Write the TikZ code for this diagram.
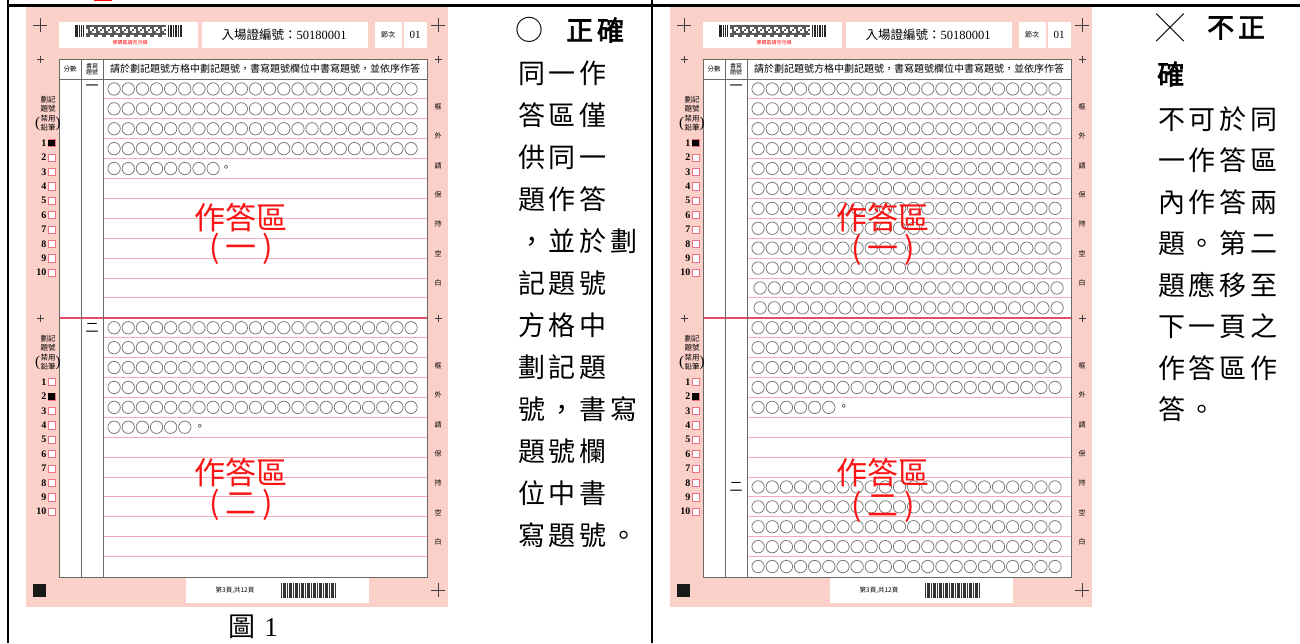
\documentclass[tikz,border=0pt]{standalone}
\usepackage{fontspec}
\setmainfont{Liberation Serif}
\newfontfamily\cjk{Noto Sans CJK TC}
\newfontfamily\cjkwide[LetterSpace=14]{Noto Sans CJK TC}
\newfontfamily\cjkwidebold[LetterSpace=14,FakeBold=2.5]{Noto Sans CJK TC}

\definecolor{sheetpink}{RGB}{251,208,200}
\definecolor{rowpink}{RGB}{245,172,186}
\definecolor{seprred}{RGB}{226,78,104}
\definecolor{gridgray}{RGB}{105,105,105}
\definecolor{bubblegray}{RGB}{118,118,118}
\definecolor{boxpink}{RGB}{238,112,134}
\definecolor{handred}{RGB}{250,20,20}

\begin{document}
\begin{tikzpicture}[x=1pt, y=-1pt,
    grid/.style={draw=gridgray, line width=0.6pt},
    rowline/.style={draw=rowpink, line width=0.9pt},
    sepline/.style={draw=seprred, line width=1.5pt},
    bubble/.style={draw=bubblegray, line width=0.75pt},
    tick/.style={draw=black!75, line width=0.7pt},
    numbox/.style={draw=boxpink, fill=white, line width=0.6pt},
    tiny/.style={inner sep=0pt, font=\cjk\fontsize{7}{7}\selectfont},
    digit/.style={inner sep=0pt, anchor=east, font=\bfseries\fontsize{10}{10}\selectfont},
    qno/.style={inner sep=0pt, font=\cjk\fontsize{13}{13}\selectfont},
    stop/.style={inner sep=0pt, font=\cjk\fontsize{11}{11}\selectfont},
    hand/.style={inner sep=0pt, text=handred, font=\cjk\fontsize{31}{31}\selectfont},
    desc/.style={anchor=west, inner sep=0pt, font=\cjkwide\fontsize{27}{27}\selectfont},
    descbold/.style={anchor=west, inner sep=0pt, font=\cjkwidebold\fontsize{27}{27}\selectfont}
]
\useasboundingbox (0,0) rectangle (1300,643);

\foreach \sx/\tag in {0/L,644/R}{
\begin{scope}[xshift=\sx]
    \fill[sheetpink] (26,7) rectangle (448,607);
    \fill[white] (59,22) rectangle (198,48);
    \fill[white] (202,22) rectangle (368,48);
    \fill[white] (375,22) rectangle (402,48);
    \fill[white] (404,22) rectangle (427,48);
    \fill[white] (59,59) rectangle (427,577);
    \fill[white] (186,578) rectangle (369,603);
    % barcode
    \foreach \bx/\bw in {75/2.6,78.6/1,80.6/1.6,83.2/0.8,168/1,170/2,173/0.8,175/1.6,177.6/1,179.6/2.6}
        \fill[black!85] (\bx,24.5) rectangle ++(\bw,12);
    \foreach \i in {0,...,39}
        \foreach \j in {0,...,5}{
            \pgfmathtruncatemacro\on{mod(\i*\i+3*\i*\j+\j,4)}
            \ifnum\on<2 \fill[black!65] ({86+2*\i},{24.5+2*\j}) rectangle ++(2,2); \fi
        }
    \node[tiny, text=red, font=\cjk\fontsize{5}{5}\selectfont] (note\tag) at (130,43) {條碼區請勿污損};
    \node[inner sep=0pt, font=\cjk\fontsize{12.5}{12.5}\selectfont] (admit\tag) at (284,35) {入場證編號：\rmfamily 50180001};
    \node[tiny] (sess\tag) at (388,35) {節次};
    \node[inner sep=0pt, font=\fontsize{11}{11}\selectfont] (sessno\tag) at (415,35) {01};
    % table
    \foreach \k in {1,...,24}{
        \ifnum\k=12 \else \draw[rowline] (103,{79+19.9*\k}) -- (427,{79+19.9*\k}); \fi
    }
    \draw[sepline] (59,317.8) -- (427,317.8);
    \draw[grid] (59,59) rectangle (427,577);
    \draw[grid] (59,79) -- (427,79);
    \draw[grid] (81,59) -- (81,577);
    \draw[grid] (103,59) -- (103,577);
    \node[tiny, font=\cjk\fontsize{6.5}{6.5}\selectfont] (score\tag) at (70,69) {分數};
    \node[tiny, align=center, font=\cjk\fontsize{6}{6.5}\selectfont] (qhead\tag) at (92,69) {書寫\\題號};
    \node[inner sep=0pt, font=\cjk\fontsize{10}{10}\selectfont] (guide\tag) at (265,69) {請於劃記題號方格中劃記題號，書寫題號欄位中書寫題號，並依序作答};
    \node[qno] (qa\tag) at (92,88) {一};
    % numbers
    \foreach \by/\mk in {143/1,382/2}{
        \node[tiny, align=center, font=\cjk\fontsize{7.5}{9.5}\selectfont] (mark\tag\mk) at (48,{\by-29.5}) {劃記\\題號\\禁用\\鉛筆};
        \node[inner sep=0pt, font=\fontsize{15}{15}\selectfont] (lp\tag\mk) at (37.5,{\by-19.5}) {(};
        \node[inner sep=0pt, font=\fontsize{15}{15}\selectfont] (rp\tag\mk) at (58,{\by-19.5}) {)};
        \foreach \n in {1,...,10}{
            \node[digit] (n\tag\mk\n) at (46.5,{\by+14.4*(\n-1)}) {\n};
            \draw[numbox] (47.8,{\by+14.4*(\n-1)-3.6}) rectangle ++(7.2,7.2);
        }
        \fill[black] (48.3,{\by+14.4*(\mk-1)-3.1}) rectangle ++(6.2,6.2);
    }
    \foreach \vy in {107,366}
        \foreach \ch [count=\i from 0] in {框,外,請,保,持,空,白}
            \node[tiny] (side\tag\vy\i) at (438,{\vy+29.3*\i}) {\ch};
    \foreach \px/\py/\ps in {40/25/7,438/25/7,40/59/3.5,438/59/3.5,40/318/3.5,438/318/3.5,438/590/7}
        \draw[tick] ({\px-\ps},\py) -- ({\px+\ps},\py) (\px,{\py-\ps}) -- (\px,{\py+\ps});
    \fill[black!90] (33,584) rectangle (46,597);
    \node[tiny, font=\cjk\fontsize{6.5}{6.5}\selectfont] (page\tag) at (235,590) {第3頁,共12頁};
    \foreach \i in {0,...,27}{
        \pgfmathsetmacro\bw{0.5+0.5*mod(\i*5,3)}
        \fill[black!80] ({281+2*\i},583) rectangle ++(\bw,15);
    }
\end{scope}
}

% left sheet answers
\foreach \r/\n in {1/22,2/22,3/22,4/22,5/8,13/22,14/22,15/22,16/22,17/22,18/6}
    \foreach \i in {1,...,\n}
        \draw[bubble] ({114.1+14.14*(\i-1)},{79+19.9*(\r-0.5)}) circle (6.2pt);
\node[stop] (stopL1) at ({114.1+14.14*8-1},{79+19.9*4.5}) {。};
\node[stop] (stopL2) at ({114.1+14.14*6+1},{79+19.9*17.5}) {。};
\node[qno] (qbL) at (92,{79+19.9*12.5}) {二};
\node[hand] (zoneL1) at (241,218) {作答區};
\node[hand] (zoneL1no) at (241,249) {(\hspace{6pt}一\hspace{6pt})};
\node[hand] (zoneL2) at (241,473) {作答區};
\node[hand] (zoneL2no) at (241,505) {(\hspace{6pt}二\hspace{6pt})};

% right sheet answers
\begin{scope}[xshift=644]
    \foreach \r in {1,2,3,4,5,6,7,8,9,10,13,14,15,16,21,22,23,24,25}
        \foreach \i in {1,...,22}
            \draw[bubble] ({114.1+14.14*(\i-1)},{79+19.9*(\r-0.5)}) circle (6.2pt);
    \foreach \r in {11,12}
        \foreach \i in {1,...,22}
            \draw[bubble] ({116.1+14.14*(\i-1)},{79+19.9*(\r-0.5)}) circle (6.2pt);
    \foreach \i in {1,...,6}
        \draw[bubble] ({114.1+14.14*(\i-1)},{79+19.9*16.5}) circle (6.2pt);
    \node[stop] (stopR1) at ({114.1+14.14*6+1},{79+19.9*16.5}) {。};
    \node[qno] (qbR) at (92,{79+19.9*20.5}) {二};
    \node[hand] (zoneR1) at (239,218) {作答區};
    \node[hand] (zoneR1no) at (239,250) {(\hspace{6pt}一\hspace{6pt})};
    \node[hand] (zoneR2) at (239,473) {作答區};
    \node[hand] (zoneR2no) at (239,507) {(\hspace{6pt}二\hspace{6pt})};
\end{scope}

% table frame
\draw[line width=2.2pt] (8,0) -- (8,643);
\draw[line width=2.6pt] (652,0) -- (652,643);
\draw[line width=3pt] (7,5.5) -- (1300,5.5);
\fill[red] (94,0) rectangle (112,1.3);

% notes
\node[desc, font=\cjk\fontsize{28}{28}\selectfont] (okmark) at (515,30) {○};
\node[descbold] (oktitle) at (566,30) {正確};
\foreach \line [count=\i from 0] in {同一作,答區僅,供同一,題作答,，並於劃,記題號,方格中,劃記題,號，書寫,題號欄,位中書,寫題號。}
    \node[desc] (okline\i) at (518,{73+42*\i}) {\line};
\node[desc, font=\cjk\fontsize{28}{28}\selectfont] (nomark) at (1156,28) {╳};
\node[descbold] (notitle) at (1207,28) {不正};
\node[descbold] (notitleb) at (1157,74) {確};
\foreach \line [count=\i from 0] in {不可於同,一作答區,內作答兩,題。第二,題應移至,下一頁之,作答區作,答。}
    \node[desc] (noline\i) at (1158,{119+41.5*\i}) {\line};
\node[inner sep=0pt, font=\cjk\fontsize{27}{27}\selectfont] (caption) at (253,627) {圖\hspace{9pt}{\rmfamily 1}};
\end{tikzpicture}
\end{document}
